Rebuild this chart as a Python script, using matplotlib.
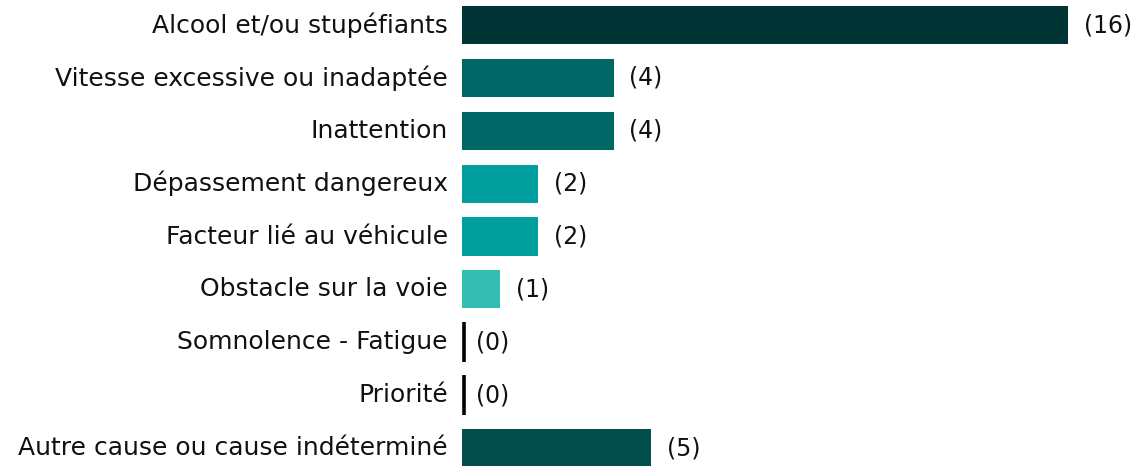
import matplotlib
matplotlib.use("Agg")
import matplotlib.pyplot as plt
import numpy as np

# causes of accidents (count)
categories = ["Alcool et/ou stupéfiants", "Vitesse excessive ou inadaptée", "Inattention",
              "Dépassement dangereux", "Facteur lié au véhicule", "Obstacle sur la voie",
              "Somnolence - Fatigue", "Priorité", "Autre cause ou cause indéterminé"]
values = [16, 4, 4, 2, 2, 1, 0, 0, 5]
colors = ["#013535", "#006766", "#006766", "#009e9d", "#009e9d", "#33bdb3",
          "#000000", "#000000", "#024e4d"]

plt.rcParams['font.family'] = ['DejaVu Sans']

fig = plt.figure(figsize=(11.44, 4.66), dpi=100)
ax = fig.add_axes([462 / 1144, 0, 1 - 462 / 1144, 1])

y = np.arange(len(categories))
h = 0.72
ax.barh(y, values, height=h, color=colors, edgecolor="none")

# zero values shown as a thin black tick
for yi, v in zip(y, values):
    if v == 0:
        ax.vlines(0.04, yi - 0.38, yi + 0.38, color="black", lw=2.6)
        off = 0.38
    else:
        off = 0.42
    ax.text(v + off, yi, "(%d)" % v, va="center", ha="left", fontsize=17, color="#111111")
    ax.text(-0.37, yi, categories[yi], va="center", ha="right", fontsize=18, color="#111111")

ax.set_xlim(0, 18)
ax.set_ylim(8.34, -0.473)
ax.axis("off")

fig.savefig("out.png", dpi=100)
